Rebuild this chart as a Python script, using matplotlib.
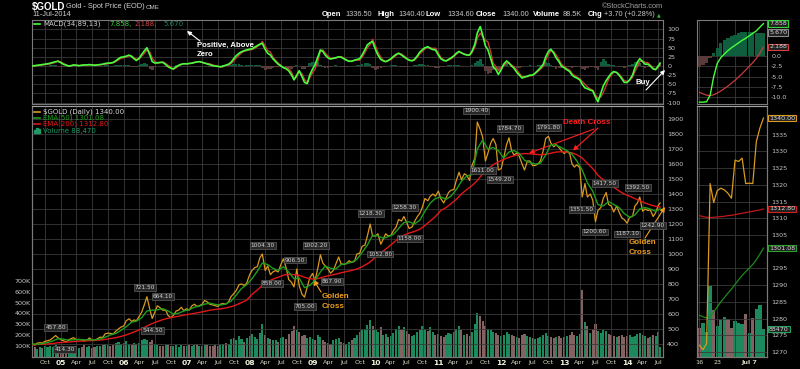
import numpy as np
import pandas as pd
import matplotlib
matplotlib.use("Agg")
import matplotlib.pyplot as plt
import matplotlib.transforms as mtransforms

plt.rcParams['font.family'] = ['DejaVu Sans']
plt.rcParams['axes.unicode_minus'] = False

W, H = 800, 369

# ------------------------------------------------------------------ data
# semi-monthly closes (1st / 15th of month) Jul-2004 .. Jul-2014, last = 11-Jul-2014
price = [
    405, 392, 405, 408, 406, 418, 421, 428, 440, 456, 441,
    428, 422, 413, 428, 435, 442, 428, 430, 428, 420, 425, 440, 426, 422, 435, 445, 444, 468, 472, 470, 466, 485, 500, 512,
    520, 555, 568, 550, 560, 555, 585, 612, 665, 715, 630, 570, 615, 655, 640, 625, 625, 590, 575, 590, 620, 625, 645, 622,
    635, 625, 655, 665, 650, 655, 665, 690, 680, 665, 660, 655, 650, 665, 670, 665, 680, 715, 735, 755, 795, 800, 790, 805,
    860, 890, 910, 915, 975, 1000, 890, 920, 862, 880, 890, 880, 930, 968, 905, 830, 810, 780, 900, 790, 730, 712, 780, 840,
    870, 820, 910, 995, 940, 920, 900, 872, 890, 930, 980, 935, 930, 935, 955, 945, 950, 1000, 1005, 1050, 1060, 1120, 1200, 1120,
    1120, 1135, 1065, 1100, 1135, 1120, 1125, 1155, 1180, 1230, 1220, 1250, 1210, 1170, 1180, 1215, 1250, 1270, 1315, 1370, 1355, 1385, 1400, 1385,
    1420, 1370, 1340, 1375, 1410, 1425, 1430, 1490, 1545, 1495, 1535, 1525, 1490, 1590, 1640, 1880, 1830, 1780, 1620, 1670, 1740, 1770, 1730, 1560,
    1570, 1640, 1730, 1775, 1690, 1660, 1675, 1650, 1600, 1560, 1620, 1620, 1590, 1590, 1600, 1620, 1690, 1770, 1785, 1740, 1715, 1730, 1710, 1690,
    1670, 1685, 1670, 1600, 1580, 1595, 1575, 1380, 1470, 1380, 1400, 1360, 1215, 1290, 1310, 1370, 1410, 1330, 1320, 1280, 1320, 1280, 1240, 1230,
    1205, 1245, 1250, 1320, 1340, 1380, 1285, 1300, 1290, 1295, 1250, 1275, 1325, 1340,
]
volume_k = [
    70, 85, 75, 90, 80, 95, 85, 100, 90, 105, 80,
    85, 95, 80, 90, 100, 85, 95, 80, 90, 105, 85, 95, 80, 90, 100, 95, 110, 120, 105, 95, 110, 125, 140, 120,
    130, 145, 120, 110, 125, 115, 130, 150, 165, 155, 140, 150, 120, 110, 100, 95, 105, 110, 95, 100, 105, 90, 110, 95,
    95, 105, 100, 110, 115, 100, 95, 105, 110, 100, 95, 110, 100, 105, 120, 130, 115, 165, 175, 150, 190, 160, 140, 170,
    190, 210, 180, 160, 220, 300, 200, 175, 160, 150, 155, 140, 170, 185, 160, 210, 240, 280, 250, 230, 190, 200, 170, 180,
    160, 150, 200, 180, 150, 140, 130, 120, 150, 160, 170, 140, 130, 120, 140, 150, 170, 200, 230, 250, 260, 290, 340, 280,
    250, 230, 270, 200, 210, 180, 190, 220, 260, 280, 250, 270, 240, 210, 190, 200, 230, 250, 280, 260, 240, 270, 230, 200,
    210, 190, 180, 200, 220, 210, 230, 260, 280, 250, 200, 210, 190, 230, 300, 400, 380, 330, 280, 260, 250, 230, 220, 200,
    190, 200, 230, 210, 200, 190, 180, 170, 200, 210, 190, 180, 170, 160, 170, 180, 200, 220, 190, 180, 170, 180, 190, 170,
    180, 190, 200, 230, 200, 190, 210, 620, 320, 280, 220, 260, 300, 240, 220, 250, 240, 210, 200, 190, 180, 190, 200, 180,
    190, 200, 180, 190, 210, 220, 200, 190, 170, 180, 200, 190, 230, 88,
]
macd = [
    0, 1, 2, 3, 4, 5, 6, 8, 10, 12, 13,
    9, 5, 2, 0, 1, 3, 2, 1, 2, 3, 3, 4, 3, 2, 3, 4, 5, 7, 8, 8, 10, 14, 20, 24,
    25, 27, 30, 26, 20, 15, 22, 32, 42, 50, 30, 12, 8, 9, 10, 10, 4, -2, -6, -8, -2, 2, 5, 6,
    6, 7, 8, 10, 11, 12, 10, 8, 6, 4, 1, 0, -1, -2, 0, 2, 5, 10, 20, 28, 35, 39, 42, 44,
    46, 47, 52, 56, 60, 62, 45, 35, 30, 20, 12, 5, 0, -4, -8, -13, -25, -38, -25, -13, -30, -45, -48, -25,
    -8, 3, 25, 44, 40, 30, 22, 19, 21, 23, 25, 24, 20, 16, 13, 13, 16, 18, 20, 30, 45, 58, 64, 67,
    45, 30, 18, 14, 12, 15, 20, 26, 32, 35, 30, 25, 20, 16, 14, 18, 28, 38, 45, 50, 53, 48, 45, 44,
    30, 20, 15, 14, 18, 22, 28, 35, 40, 36, 32, 30, 30, 40, 60, 90, 108, 85, 55, 45, 20, -2, -10, -23,
    -10, 5, 14, 8, 0, -6, -18, -25, -33, -30, -28, -25, -25, -20, -12, -5, 5, 25, 40, 46, 35, 22, 12, 0,
    -5, -10, -15, -25, -30, -33, -38, -50, -60, -62, -66, -68, -85, -98, -75, -55, -40, -30, -20, -15, -18, -25, -35, -45,
    -45, -38, -25, -5, 10, 20, 12, 5, 5, 0, -8, -10, 0, 7.858,
]
macd_hist = [
    1, 1, 1, 1, 1, 1, 1, 2, 2, 2, -1,
    -2, -2, -1, 0, 1, 1, -1, 0, 0, 0, 0, 1, 0, -1, 0, 1, 1, 2, 2, 0, 1, 2, 3, 3,
    2, 2, 2, -2, -3, -3, 3, 5, 7, 6, -8, -10, -4, 1, 1, -1, -3, -4, -3, 1, 3, 2, 1, -1,
    0, 0, 1, 1, 0, 0, 0, 0, -1, -2, -2, -1, -1, 1, 2, 0, 2, 4, 6, 6, 5, 3, 1, 2,
    2, 2, 3, 3, 2, -5, -10, -7, -8, -5, -3, -3, -2, 1, -3, -6, -8, -3, 4, 1, -8, -8, -3, 7,
    10, 12, 10, 4, -4, -6, -5, -2, 0, 2, 0, -2, -2, -2, 0, 0, 1, 2, 4, 6, 8, 8, 5, -6,
    -10, -8, -6, -2, 0, 1, 2, 3, 3, 0, -3, -3, -2, -1, -1, 2, 4, 5, 5, 3, 2, -2, -3, -5,
    -5, -4, -2, 0, 2, 2, 3, 3, 2, 0, -1, -1, 0, 4, 8, 14, 18, 5, -15, -22, -18, -10, -8, -10,
    -5, 4, 6, 0, -3, -4, -6, -5, -4, 0, 1, 2, 1, 1, 3, 4, 6, 10, 9, 4, -4, -8, -6, -5,
    -3, -3, -4, -5, -4, -3, -3, -8, -10, -5, -3, -2, -6, -10, 10, 18, 14, 6, 4, 2, -1, -3, -4, -5,
    -3, 2, 6, 10, 12, 8, -2, -5, -4, -3, -2, -1, 3, 5.67,
]
# monthly (15th) EMA readings, last = 11-Jul-2014
ema50 = [
    400, 398, 402, 410, 420, 435,
    432, 425, 428, 430, 428, 428, 428, 432, 445, 460, 470, 490,
    515, 545, 552, 575, 620, 625, 628, 635, 620, 600, 605, 620,
    628, 645, 652, 665, 672, 664, 660, 666, 685, 725, 770, 795,
    835, 885, 940, 930, 905, 890, 915, 880, 835, 840, 775, 790,
    825, 880, 920, 905, 900, 930, 935, 945, 965, 1010, 1060, 1125,
    1120, 1105, 1115, 1130, 1170, 1210, 1215, 1200, 1225, 1285, 1340, 1370,
    1380, 1365, 1385, 1430, 1485, 1520, 1530, 1700, 1760, 1700, 1710, 1690,
    1640, 1680, 1690, 1670, 1625, 1610, 1600, 1605, 1660, 1730, 1725, 1710,
    1690, 1665, 1620, 1560, 1475, 1420, 1330, 1320, 1350, 1330, 1310, 1270,
    1245, 1260, 1300, 1310, 1300, 1285, 1301.08,
]
ema200 = [
    395, 396, 398, 400, 403, 408,
    411, 413, 416, 418, 420, 422, 424, 426, 430, 436, 442, 450,
    460, 474, 486, 500, 520, 536, 550, 562, 572, 578, 585, 592,
    598, 604, 610, 618, 625, 630, 634, 640, 648, 660, 676, 692,
    730, 760, 790, 815, 832, 845, 858, 865, 862, 858, 845, 835,
    832, 840, 850, 858, 865, 875, 882, 890, 900, 915, 935, 960,
    1000, 1020, 1045, 1075, 1105, 1125, 1140, 1150, 1165, 1190, 1220, 1250,
    1290, 1310, 1335, 1365, 1400, 1430, 1455, 1490, 1535, 1565, 1595, 1615,
    1630, 1645, 1655, 1665, 1670, 1668, 1665, 1662, 1665, 1672, 1680, 1682,
    1680, 1675, 1662, 1640, 1605, 1570, 1525, 1495, 1470, 1445, 1420, 1400,
    1385, 1370, 1355, 1340, 1328, 1318, 1312.8,
]
peak_dates = ['2004-12-01', '2005-01-22', '2006-05-05', '2006-06-17', '2006-08-14', '2008-03-17',
              '2008-05-10', '2008-09-21', '2008-11-17', '2009-01-20', '2009-04-22', '2009-12-05',
              '2010-01-28', '2010-06-21', '2010-07-19', '2011-08-10', '2011-09-16', '2011-12-24',
              '2012-02-20', '2012-10-01', '2013-04-12', '2013-06-28', '2013-08-24', '2014-01-01',
              '2014-03-05', '2014-05-30']
peak_values = [457.80, 414.30, 721.50, 544.50, 664.10, 1004.30, 858.00, 906.50, 705.00, 1002.20,
               867.90, 1218.30, 1052.80, 1258.30, 1158.00, 1900.40, 1611.00, 1549.20, 1784.70,
               1791.80, 1351.50, 1200.60, 1417.50, 1187.10, 1392.50, 1242.90]
peak_is_high = [1, 0, 1, 0, 1, 1, 0, 1, 0, 1, 0, 1, 0, 1, 0, 1, 0, 0, 1, 1, 0, 0, 1, 0, 1, 0]

# zoom panel: daily 16-Jun-2014 .. 11-Jul-2014
small_labels = ['16', '17', '18', '19', '20', '23', '24', '25', '26', '27', '30',
                '1', '2', '3', '7', '8', '9', '10', '11']
small_price = [1272, 1270.7, 1272.5, 1320.4, 1314.7, 1318.3, 1319, 1318.5, 1317.5, 1316,
               1327.4, 1327, 1328, 1320.4, 1320.5, 1320.4, 1333, 1337, 1340]
small_ema50 = [1281, 1280.5, 1280.2, 1280.5, 1282, 1283.5, 1285, 1286.3, 1287.6, 1288.8,
               1290.2, 1291.6, 1292.9, 1294, 1295.1, 1296.2, 1297.6, 1299.3, 1301.08]
small_ema200 = [1310.8, 1310.5, 1310.3, 1310.2, 1310.3, 1310.4, 1310.5, 1310.6, 1310.8, 1310.9,
                1311.1, 1311.3, 1311.5, 1311.7, 1311.9, 1312.1, 1312.3, 1312.5, 1312.8]
small_volume_k = [92, 108, 80, 225, 149, 98, 117, 127, 120, 92, 114, 108, 104, 136, 76, 123, 152, 165, 88.47]
small_vol_up = [0, 1, 1, 1, 0, 1, 1, 1, 0, 0, 1, 1, 1, 0, 1, 0, 1, 1, 1]
small_macd = [-11.2, -11.2, -11.1, -9.5, -5.0, -1.8, -0.4, 0.5, 1.3, 2.0, 2.6, 3.2, 3.8, 4.3,
              4.9, 5.5, 6.1, 7.0, 7.858]
small_signal = [-8.8, -9.2, -9.5, -9.6, -9.4, -9.0, -8.5, -7.9, -7.3, -6.6, -5.9, -5.1, -4.3,
                -3.4, -2.5, -1.6, -0.6, 0.7, 2.188]
small_hist = [-2.6, -2.2, -1.6, -0.5, 0.7, 1.9, 3.1, 3.9, 4.4, 4.8, 5.1, 5.5, 5.8, 5.9, 5.9,
              5.8, 5.7, 5.7, 5.67]

dates = pd.date_range('2004-07-15', '2014-07-01', freq='SMS').append(pd.DatetimeIndex(['2014-07-11']))
ema_dates = dates[::2]
assert len(price) == len(dates) == len(volume_k) == len(macd) == len(macd_hist)
assert len(ema50) == len(ema_dates) == len(ema200)

# ------------------------------------------------------------------ style
BG = 'black'
GRID = '#3a3a3a'
FRAME = '#7a7a7a'
TXT = '#c8c8c8'
GOLD = '#d99a1f'
EMA50C = '#1e9e1e'
EMA200C = '#e01818'
VGREEN = '#1d8a5e'
VBROWN = '#846262'
HGREEN = '#0f5e3e'
HBROWN = '#5a3b3b'
LIME = '#45ff3a'

fig = plt.figure(figsize=(W / 100, H / 100), dpi=100, facecolor=BG)


def rect(x0, y0, x1, y1):
    return [x0 / W, 1 - y1 / H, (x1 - x0) / W, (y1 - y0) / H]


def P(x, y):
    return (x / W, 1 - y / H)


def style(ax):
    ax.set_facecolor(BG)
    for s in ax.spines.values():
        s.set_color(FRAME)
        s.set_linewidth(0.8)
    ax.tick_params(colors=TXT, labelsize=4.6, length=0, pad=3)


L, R = 32, 663
xlim = (pd.Timestamp('2004-07-17'), pd.Timestamp('2014-07-28'))
qt = pd.date_range('2004-10-01', '2014-07-01', freq='QS-JAN')

# ---------------- MACD panel
ax_m = fig.add_axes(rect(L, 20, R, 104))
style(ax_m)
hist_cols = [HGREEN if h >= 0 else HBROWN for h in macd_hist]
ax_m.bar(dates, macd_hist, width=15, color=hist_cols, zorder=2)
signal = np.array(macd, float) - np.array(macd_hist, float)
ax_m.plot(dates, signal, color='#c83a3a', lw=1.0, zorder=3)
ax_m.plot(dates, macd, color=LIME, lw=1.2, zorder=4)
ax_m.set_xlim(*xlim)
ax_m.set_ylim(-104, 126)
ax_m.set_xticks(qt)
ax_m.set_xticklabels([])
ax_m.set_yticks(range(-100, 101, 25))
ax_m.yaxis.tick_right()
ax_m.grid(True, color=GRID, lw=0.6, zorder=0)
ax_m.set_axisbelow(True)

# ---------------- price + volume panel
ax_v = fig.add_axes(rect(L, 106, R, 357))
style(ax_v)
vol_cols = [VGREEN] + [VGREEN if price[i] >= price[i - 1] else VBROWN for i in range(1, len(price))]
ax_v.bar(dates, volume_k, width=12, color=vol_cols, zorder=2)
ax_v.set_xlim(*xlim)
ax_v.set_ylim(-3, 2315)
ax_v.set_yticks(range(100, 701, 100))
ax_v.set_yticklabels([f'{v}K' for v in range(100, 701, 100)])
ax_v.tick_params(axis='y', pad=1)
ax_v.set_xticks([])

ax_p = fig.add_axes(rect(L, 106, R, 357))
style(ax_p)
ax_p.patch.set_visible(False)
ax_p.plot(dates, price, color=GOLD, lw=0.9, zorder=3)
ax_p.plot(ema_dates, ema200, color=EMA200C, lw=1.0, zorder=4)
ax_p.plot(ema_dates, ema50, color=EMA50C, lw=1.0, zorder=5)
ax_p.set_xlim(*xlim)
ax_p.set_ylim(313, 1987)
ax_p.set_yticks(range(400, 1901, 100))
ax_p.yaxis.tick_right()
ax_p.set_xticks(qt)
ax_p.set_xticklabels([d.strftime('%y') if d.month == 1 else d.strftime('%b') for d in qt])
ax_p.tick_params(axis='x', pad=2)
for lab, d in zip(ax_p.get_xticklabels(), qt):
    if d.month == 1:
        lab.set_fontweight('bold')
        lab.set_fontsize(5.4)
        lab.set_color('#f2f2dc')
    else:
        lab.set_color('#d8d8c4')
ax_p.grid(True, color=GRID, lw=0.6, zorder=0)
ax_p.spines['top'].set_color('#a0a0a0')

for d, v, hi in zip(peak_dates, peak_values, peak_is_high):
    ax_p.annotate(f'{v:.2f}', xy=(pd.Timestamp(d), v), xytext=(0, 8 if hi else -8),
                  textcoords='offset pixels', ha='center', va='center', fontsize=4.2,
                  color='#d0d0d0', zorder=7,
                  bbox=dict(boxstyle='square,pad=0.15', fc='#282828', ec='#5e5e5e', lw=0.5))

# ---------------- zoom panels
SL, SR = 697, 767
xs = np.arange(len(small_price))

ax_sm = fig.add_axes(rect(SL, 20, SR, 104))
style(ax_sm)
ax_sm.bar(xs, small_hist, width=0.95, color=[HGREEN if h >= 0 else HBROWN for h in small_hist], zorder=2)
ax_sm.plot(xs, small_signal, color='#c83a3a', lw=0.9, zorder=3)
ax_sm.plot(xs, small_macd, color=LIME, lw=1.0, zorder=4)
ax_sm.set_xlim(-0.7, 19.0)
ax_sm.set_ylim(-11.65, 8.74)
ax_sm.set_xticks([0, 5, 10, 14])
ax_sm.set_xticklabels([])
ax_sm.set_yticks([0, -2.5, -5, -7.5, -10])
ax_sm.set_yticklabels(['0.0', '-2.5', '-5.0', '-7.5', '-10.0'])
ax_sm.yaxis.tick_right()
ax_sm.grid(True, color=GRID, lw=0.6, zorder=0)
ax_sm.set_axisbelow(True)

ax_sv = fig.add_axes(rect(SL, 106, SR, 357))
style(ax_sv)
ax_sv.bar(xs, small_volume_k, width=0.95, color=[VGREEN if u else VBROWN for u in small_vol_up], zorder=2)
ax_sv.set_xlim(-0.7, 19.0)
ax_sv.set_ylim(0, 794)
ax_sv.set_xticks([])
ax_sv.set_yticks([])

ax_sp = fig.add_axes(rect(SL, 106, SR, 357))
style(ax_sp)
ax_sp.patch.set_visible(False)
ax_sp.plot(xs, small_ema200, color='#c01818', lw=0.9, zorder=3)
ax_sp.plot(xs, small_ema50, color='#1a8a1a', lw=0.9, zorder=3)
ax_sp.plot(xs, small_price, color=GOLD, lw=0.9, zorder=4)
ax_sp.set_xlim(-0.7, 19.0)
ax_sp.set_ylim(1268.5, 1343.6)
sp_ticks = [t for t in range(1270, 1340, 5) if t != 1300]
ax_sp.set_yticks(sp_ticks)
ax_sp.yaxis.tick_right()
ax_sp.set_xticks([0, 5, 10, 14])
ax_sp.set_xticklabels(['16', '23', '', 'Jul 7'])
ax_sp.tick_params(axis='x', pad=2)
ax_sp.get_xticklabels()[3].set_fontweight('bold')
for lab in ax_sp.get_xticklabels():
    lab.set_color('#d8d8c4')
ax_sp.grid(True, color=GRID, lw=0.6, zorder=0)
ax_sp.spines['top'].set_color('#a0a0a0')


def value_box(ax, val, text, ec):
    tr = mtransforms.blended_transform_factory(ax.transAxes, ax.transData)
    ax.text(1.03, val, text, transform=tr, fontsize=4.6, color='#d8d8d8', ha='left', va='center',
            zorder=10, clip_on=False,
            bbox=dict(boxstyle='square,pad=0.12', fc='#202020', ec=ec, lw=0.8))


value_box(ax_sm, small_macd[-1], f'{small_macd[-1]:.3f}', '#3cd43c')
value_box(ax_sm, small_hist[-1], f'{small_hist[-1]:.3f}', '#8a8a8a')
value_box(ax_sm, small_signal[-1], f'{small_signal[-1]:.3f}', '#d04040')
value_box(ax_sp, small_price[-1], f'{small_price[-1]:.2f}', GOLD)
value_box(ax_sp, small_ema200[-1], f'{small_ema200[-1]:.2f}', '#d02020')
value_box(ax_sp, small_ema50[-1], f'{small_ema50[-1]:.2f}', '#2aa02a')
tr = mtransforms.blended_transform_factory(ax_sv.transAxes, ax_sv.transData)
ax_sv.text(1.03, small_volume_k[-1], f'{small_volume_k[-1] * 1000:.0f}', transform=tr, fontsize=4.6,
           color='#d8d8d8', ha='left', va='center', clip_on=False, zorder=10,
           bbox=dict(boxstyle='square,pad=0.12', fc='#202020', ec='#2aa060', lw=0.8))

# ---------------- header texts
LS = 'Liberation Sans'
fig.text(*P(32, 7), '$GOLD', color='white', fontsize=7, fontweight='bold', family=LS, va='center')
fig.text(*P(66, 7), 'Gold - Spot Price (EOD)', color='#d0d0d0', fontsize=5.3, family=LS, va='center')
fig.text(*P(146, 7.5), 'CME', color='#d0d0d0', fontsize=4.5, family=LS, va='center')
fig.text(*P(32, 15), '11-Jul-2014', color='#d0d0d0', fontsize=5.3, family=LS, va='center')
fig.text(*P(663, 7), '\u00a9StockCharts.com', color='#a0a0a0', fontsize=5.3, family=LS, va='center', ha='right')
hdr = [(322, 'Open', True), (345, '1336.50', False), (377, 'High', True), (398, '1340.40', False),
       (425, 'Low', True), (447, '1334.60', False), (476, 'Close', True), (502, '1340.00', False),
       (533, 'Volume', True), (563, '88.5K', False), (588, 'Chg', True), (604, '+3.70 (+0.28%)', False)]
for x, t, b in hdr:
    fig.text(*P(x, 15), t, color='white' if b else '#c8c8c8', fontsize=5.5 if b else 5.3,
             fontweight='bold' if b else 'normal', family=LS, va='center')
fig.text(*P(657, 15), '\u25b2', color='#30c030', fontsize=3.5, va='center')

# legends
fig.lines.append(plt.Line2D([34 / W, 40 / W], [1 - 24 / H] * 2, color=LIME, lw=1.2, transform=fig.transFigure))
leg_m = [(43, 'MACD(34,89,13)', '#d0d0d0'), (109, '7.858,', '#3cd43c'), (135, '2.188,', '#d04040'),
         (163, '5.670', '#1d8a5e')]
for x, t, c in leg_m:
    fig.text(*P(x, 24), t, color=c, fontsize=5.0, va='center')
leg_p = [(112, '$GOLD (Daily) 1340.00', '#d8d8d8', GOLD), (118, 'EMA(50) 1301.08', EMA50C, EMA50C),
         (124, 'EMA(200) 1312.80', EMA200C, EMA200C), (131, 'Volume 88,470', '#1d9a66', None)]
for y, t, c, lc in leg_p:
    if lc:
        fig.lines.append(plt.Line2D([34 / W, 40 / W], [1 - y / H] * 2, color=lc, lw=1.2,
                                    transform=fig.transFigure))
    else:
        for k, hh in enumerate([3, 5, 4]):
            fig.patches.append(plt.Rectangle(((34 + 2 * k) / W, 1 - (y + 2) / H), 1.6 / W, hh / H,
                                             color='#1d9a66', transform=fig.transFigure))
    fig.text(*P(43, y), t, color=c, fontsize=5.0, va='center')

# ---------------- annotations
arw = dict(arrowstyle='-|>', lw=0.8, mutation_scale=6, shrinkA=0, shrinkB=0)
fig.text(*P(197, 45), 'Positive, Above', color='white', fontsize=5.6, fontweight='bold', family=LS, va='center')
fig.text(*P(197, 55), 'Zero', color='white', fontsize=5.6, fontweight='bold', family=LS, va='center')
ax_m.annotate('', xy=P(187, 31), xycoords='figure fraction', xytext=P(200, 41), textcoords='figure fraction',
              arrowprops=dict(arw, color='white'))
fig.text(*P(635, 83), 'Buy', color='white', fontsize=5.6, fontweight='bold', family=LS, va='center')
ax_m.annotate('', xy=P(665, 70), xycoords='figure fraction', xytext=P(646, 90), textcoords='figure fraction',
              arrowprops=dict(arw, color='white'))

fig.text(*P(563, 123), 'Death Cross', color='#ff2020', fontsize=5.8, fontweight='bold', family=LS, va='center')
ax_p.annotate('', xy=(pd.Timestamp('2012-06-10'), 1672), xytext=P(594, 129), textcoords='figure fraction',
              arrowprops=dict(arw, color='#ff2020', mutation_scale=7))
ax_p.annotate('', xy=(pd.Timestamp('2013-02-20'), 1690), xytext=P(598, 128), textcoords='figure fraction',
              arrowprops=dict(arw, color='#ff2020', mutation_scale=7))

ORG = '#f0a020'
fig.text(*P(322, 297), 'Golden', color=ORG, fontsize=5.8, fontweight='bold', family=LS, va='center')
fig.text(*P(322, 307), 'Cross', color=ORG, fontsize=5.8, fontweight='bold', family=LS, va='center')
ax_p.annotate('', xy=(pd.Timestamp('2009-01-05'), 830), xytext=P(321, 292), textcoords='figure fraction',
              arrowprops=dict(arw, color=ORG, mutation_scale=8))
fig.text(*P(629, 243), 'Golden', color=ORG, fontsize=5.8, fontweight='bold', family=LS, va='center')
fig.text(*P(629, 253), 'Cross', color=ORG, fontsize=5.8, fontweight='bold', family=LS, va='center')
ax_p.annotate('', xy=P(665, 207), xycoords='figure fraction', xytext=P(645, 238), textcoords='figure fraction',
              arrowprops=dict(arw, color=ORG, mutation_scale=7))

fig.savefig('out.png', dpi=100, facecolor=BG)
